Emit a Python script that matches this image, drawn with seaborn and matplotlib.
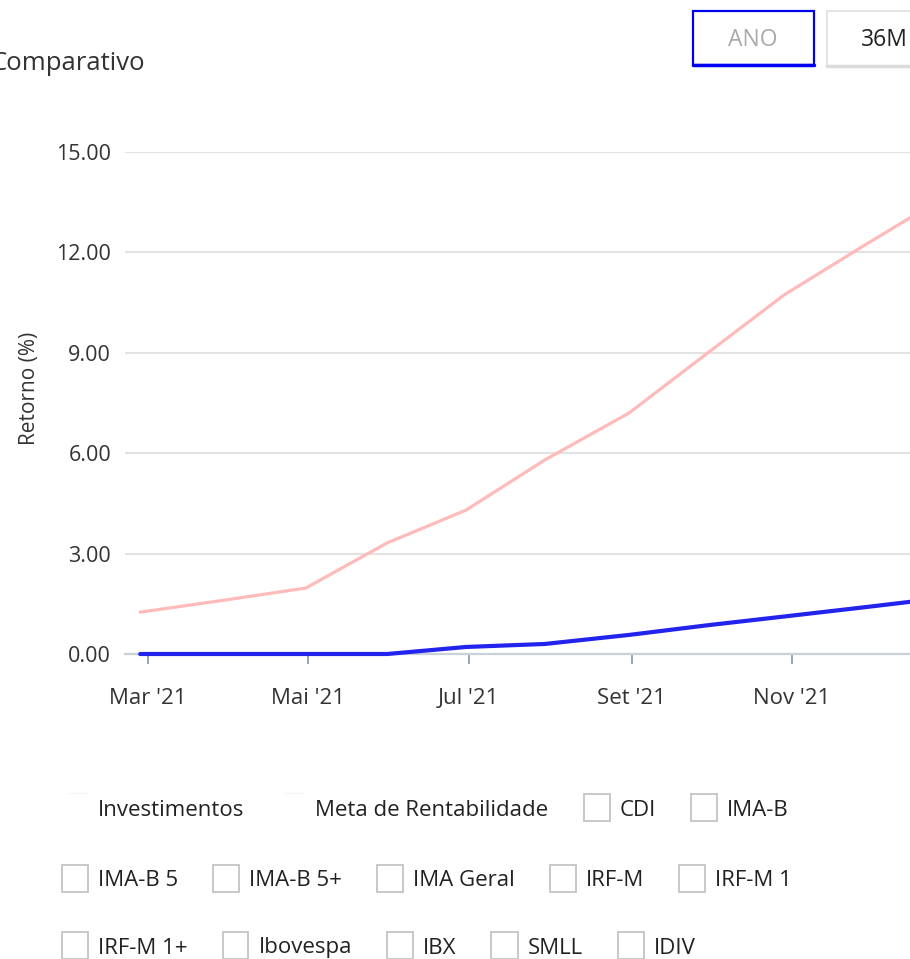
import datetime as dt
import matplotlib
matplotlib.use("Agg")
import matplotlib.pyplot as plt
import matplotlib.dates as mdates
from matplotlib.patches import Rectangle
import pandas as pd
import seaborn as sns

# data (month-end returns, %)
datas = ["2021-02-26", "2021-03-31", "2021-04-30", "2021-05-31", "2021-06-30", "2021-07-30",
         "2021-08-31", "2021-09-30", "2021-10-29", "2021-11-30", "2021-12-31"]
meta = [1.25, 1.62, 1.97, 3.32, 4.30, 5.80, 7.20, 9.00, 10.73, 12.28, 13.75]
investimentos = [0.0, 0.0, 0.0, 0.0, 0.21, 0.30, 0.57, 0.86, 1.12, 1.41, 1.70]

tick_dates = ["2021-03-01", "2021-05-01", "2021-07-01", "2021-09-01", "2021-11-01"]
tick_labels = ["Mar '21", "Mai '21", "Jul '21", "Set '21", "Nov '21"]
y_ticks = [0, 3, 6, 9, 12, 15]

legend_rows = [
    ["Investimentos", "Meta de Rentabilidade", "CDI", "IMA-B"],
    ["IMA-B 5", "IMA-B 5+", "IMA Geral", "IRF-M", "IRF-M 1"],
    ["IRF-M 1+", "Ibovespa", "IBX", "SMLL", "IDIV"],
]
series_names = ["Investimentos", "Meta de Rentabilidade"]

sns.set_theme(style="white")
plt.rcParams["font.family"] = ["Open Sans", "DejaVu Sans"]

W, H = 910, 959
fig = plt.figure(figsize=(W / 100, H / 100), dpi=100)
fig.patch.set_facecolor("white")


def fx(x):
    return x / W


def fy(y):
    return 1 - y / H


# main plot area: left edge at 125px, y=0 at 654px, y=15 at 152px
ax = fig.add_axes([fx(125), fy(654), 1 - fx(125), (654 - 152) / H])

df = pd.DataFrame({"data": pd.to_datetime(datas), "meta": meta, "inv": investimentos})
sns.lineplot(data=df, x="data", y="meta", ax=ax, color="#ffbaba", linewidth=2.3,
             clip_on=False, zorder=3)
sns.lineplot(data=df, x="data", y="inv", ax=ax, color="#2323ee", linewidth=3.0,
             clip_on=False, zorder=4)

mar1 = mdates.date2num(dt.datetime(2021, 3, 1))
ax.set_xlim(mar1 - 8.75, mar1 + 289.9)
ax.set_ylim(0, 15)

ax.set_xticks(pd.to_datetime(tick_dates))
ax.set_xticklabels(tick_labels)
ax.set_yticks(y_ticks)
ax.set_yticklabels([f"{v:.2f}" for v in y_ticks])
ax.set_xlabel("")
ax.set_ylabel("")

ax.grid(axis="y", color="#e3e3e3", linewidth=1.5)
ax.grid(axis="x", visible=False)
for s in ["left", "top", "right"]:
    ax.spines[s].set_visible(False)
ax.spines["bottom"].set_color("#c9d1d9")
ax.spines["bottom"].set_linewidth(1.6)

ax.tick_params(axis="x", direction="out", length=7.5, width=1.2, color="#8797a3",
               labelsize=16, labelcolor="#333333", pad=17, bottom=True)
ax.tick_params(axis="y", length=0, labelsize=15.5, labelcolor="#333333", pad=10)

fig.text(fx(30), fy(388), "Retorno (%)", rotation=90, ha="center", va="center",
         fontsize=15, color="#333333")

# title (partially cut at the left, as in the reference)
fig.text(fx(-10), fy(64), "Comparativo", ha="left", va="center", fontsize=18.5, color="#333333")

# range buttons
fig.patches.append(Rectangle((fx(693), fy(65)), fx(121), (65 - 11) / H, transform=fig.transFigure,
                             facecolor="white", edgecolor="#0000ee", linewidth=1.6))
fig.add_artist(plt.Line2D([fx(693), fx(814)], [fy(65), fy(65)], color="#0000ee", linewidth=2.5))
fig.text(fx(753), fy(40), "ANO", ha="center", va="center", fontsize=16.5, color="#aaaaaa")
fig.patches.append(Rectangle((fx(827), fy(66)), fx(100), (66 - 11) / H, transform=fig.transFigure,
                             facecolor="white", edgecolor="#e4e4e4", linewidth=1.4))
fig.add_artist(plt.Line2D([fx(827), fx(912)], [fy(66), fy(66)], color="#dcdcdc", linewidth=2.5))
fig.text(fx(884), fy(40), "36M", ha="center", va="center", fontsize=16.5, color="#222222")

# legend as a flow of checkbox items
renderer = fig.canvas.get_renderer()
row_y = [808, 879, 946]
for labels, yc in zip(legend_rows, row_y):
    x = 62
    for lab in labels:
        if lab in series_names:
            fig.add_artist(plt.Line2D([fx(x + 6), fx(x + 25)], [fy(yc - 15), fy(yc - 15)],
                                      color="#f5f5f5", linewidth=1))
        else:
            fig.patches.append(Rectangle((fx(x), fy(yc + 13)), fx(26), 27 / H,
                                         transform=fig.transFigure, facecolor="white",
                                         edgecolor="#c4c4c4", linewidth=1.3))
        t = fig.text(fx(x + 36), fy(yc + 2), lab, ha="left", va="center", fontsize=16,
                     color="#222222")
        w = t.get_window_extent(renderer).width
        x = x + 36 + w + 35

fig.savefig("out.png", dpi=100)
